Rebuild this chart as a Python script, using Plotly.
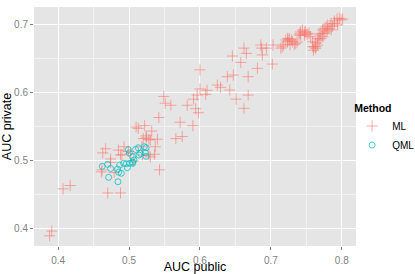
import plotly.graph_objects as go

ml_x = [0.388, 0.391, 0.407, 0.417, 0.463, 0.467, 0.461, 0.470, 0.474, 0.474, 0.479, 0.485,
        0.488, 0.488, 0.493, 0.499, 0.506, 0.510, 0.513, 0.522, 0.520, 0.524, 0.532, 0.528,
        0.518, 0.519, 0.528, 0.536, 0.537, 0.540, 0.542, 0.543, 0.549, 0.551, 0.559, 0.566,
        0.572, 0.575, 0.582, 0.590, 0.591, 0.594, 0.596, 0.598, 0.600, 0.600, 0.610, 0.608,
        0.502, 0.490, 0.462, 0.530, 0.530, 0.5245,
        0.6245, 0.629, 0.6386, 0.647, 0.642, 0.651, 0.6457, 0.6575, 0.662, 0.6655, 0.668,
        0.668, 0.662, 0.681, 0.6857, 0.687, 0.688, 0.6937, 0.702, 0.703, 0.714, 0.718,
        0.716, 0.721, 0.7257, 0.7305, 0.735, 0.733, 0.729, 0.742, 0.7446, 0.749, 0.751,
        0.7473, 0.756, 0.7588, 0.761, 0.760, 0.763, 0.766, 0.768, 0.7705, 0.773, 0.775,
        0.7777, 0.780, 0.782, 0.7847, 0.787, 0.7894, 0.7932, 0.7965, 0.799, 0.8012, 0.794,
        0.768, 0.7705, 0.773, 0.763, 0.775, 0.7777, 0.780, 0.766, 0.7537, 0.7395, 0.7235,
        0.727, 0.7235, 0.7259, 0.737, 0.7409, 0.7477, 0.742, 0.759, 0.7635, 0.785, 0.7895]
ml_y = [0.389, 0.396, 0.458, 0.463, 0.511, 0.517, 0.483, 0.452, 0.502, 0.497, 0.482, 0.515,
        0.452, 0.508, 0.520, 0.513, 0.499, 0.549, 0.547, 0.551, 0.532, 0.536, 0.543, 0.531,
        0.520, 0.508, 0.508, 0.509, 0.520, 0.531, 0.563, 0.486, 0.594, 0.584, 0.581, 0.532,
        0.556, 0.535, 0.581, 0.551, 0.590, 0.576, 0.596, 0.570, 0.605, 0.633, 0.603, 0.597,
        0.510, 0.508, 0.486, 0.530, 0.505, 0.533,
        0.6107, 0.6074, 0.623, 0.6254, 0.6034, 0.590, 0.6534, 0.644, 0.665, 0.6573, 0.623,
        0.596, 0.5765, 0.6353, 0.6696, 0.665, 0.655, 0.665, 0.6416, 0.6696, 0.665, 0.6696,
        0.667, 0.677, 0.679, 0.6744, 0.672, 0.670, 0.677, 0.689, 0.6916, 0.689, 0.685,
        0.684, 0.6818, 0.6744, 0.667, 0.662, 0.6727, 0.679, 0.6843, 0.6867, 0.6916, 0.694,
        0.6965, 0.699, 0.694, 0.7015, 0.697, 0.705, 0.708, 0.709, 0.7065, 0.708, 0.699,
        0.677, 0.679, 0.6818, 0.6647, 0.6867, 0.689, 0.6916, 0.6695, 0.6867, 0.6843, 0.6744,
        0.6705, 0.6794, 0.677, 0.674, 0.6868, 0.6885, 0.684, 0.667, 0.667, 0.692, 0.7014]

qml_x = [0.4622, 0.4698, 0.4712, 0.474, 0.4839, 0.4853, 0.4844, 0.4891, 0.4867, 0.4924,
         0.4962, 0.4976, 0.5009, 0.5051, 0.505, 0.507, 0.499, 0.5004, 0.5093, 0.513,
         0.5141, 0.5165, 0.5216, 0.524, 0.523, 0.524, 0.505]
qml_y = [0.4912, 0.4941, 0.475, 0.488, 0.4872, 0.4824, 0.4685, 0.481, 0.493, 0.4956,
         0.495, 0.489, 0.4956, 0.4956, 0.505, 0.5005, 0.5156, 0.511, 0.516, 0.5185,
         0.5078, 0.51, 0.520, 0.5185, 0.511, 0.5059, 0.4975]

x_ticks = [0.4, 0.5, 0.6, 0.7, 0.8]
y_ticks = [0.4, 0.5, 0.6, 0.7]

FONT = "Liberation Sans, Arial, sans-serif"

fig = go.Figure()
fig.add_trace(go.Scatter(
    x=ml_x, y=ml_y, mode="markers", name="ML",
    marker=dict(symbol="cross-thin", size=8, color="rgba(248,118,109,0.6)",
                line=dict(width=1, color="rgba(248,118,109,0.6)")),
))
fig.add_trace(go.Scatter(
    x=qml_x, y=qml_y, mode="markers", name="QML",
    marker=dict(symbol="circle-open", size=6, color="rgba(0,191,196,0.75)",
                line=dict(width=1, color="rgba(0,191,196,0.75)")),
))

axis_common = dict(
    showgrid=True, gridcolor="white", gridwidth=1,
    zeroline=False, showline=False,
    ticks="outside", ticklen=3, tickcolor="#7F7F7F", tickwidth=1,
    tickfont=dict(family=FONT, size=10, color="#7F7F7F"),
    minor=dict(showgrid=True, gridcolor="#F2F2F2", gridwidth=0.6, dtick=0.05, ticks=""),
)

fig.update_layout(
    width=415, height=274,
    margin=dict(l=34, r=59, t=7, b=28, autoexpand=False),
    paper_bgcolor="white", plot_bgcolor="#E5E5E5",
    font=dict(family=FONT, size=11, color="black"),
    xaxis=dict(range=[0.366, 0.820], tickvals=x_ticks, ticktext=[str(v) for v in x_ticks],
               title=dict(text="AUC public", font=dict(family=FONT, size=12.5), standoff=0),
               ticklabelstandoff=2, automargin=False, **axis_common),
    yaxis=dict(range=[0.374, 0.7255], tickvals=y_ticks, ticktext=[str(v) for v in y_ticks],
               title=dict(text="AUC private", font=dict(family=FONT, size=12.5), standoff=2),
               automargin=False, **axis_common),
    legend=dict(
        title=dict(text="<b>Method</b>", font=dict(family=FONT, size=10.5)),
        x=0.988, xanchor="left", y=0.49, yanchor="middle",
        font=dict(family=FONT, size=10), itemwidth=30,
        tracegroupgap=0, bgcolor="rgba(0,0,0,0)",
    ),
)

fig.write_html(
    "out.html",
    config={"displayModeBar": False},
    post_script="document.body.style.margin='0';document.body.style.padding='0';",
)
